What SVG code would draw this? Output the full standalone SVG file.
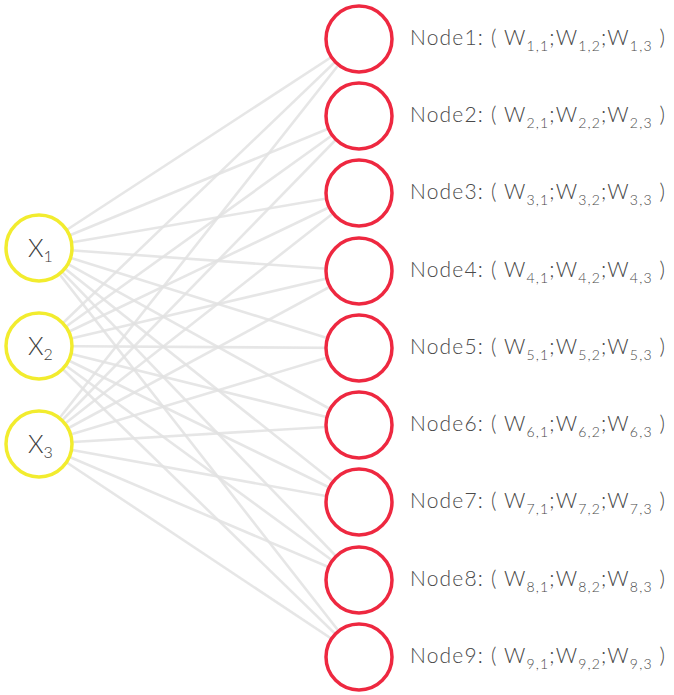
<svg xmlns="http://www.w3.org/2000/svg" width="674" height="695" viewBox="0 0 674 695">
<style>
.ln{stroke:#e2e2e2;stroke-width:2.6;stroke-opacity:0.85;fill:none}
.x{fill:#fff;stroke:#f2ec2e;stroke-width:3.5}
.n{fill:#fff;stroke:#ee2840;stroke-width:3.5}
.xl{font-family:Lato,"Open Sans",sans-serif;font-weight:300;font-size:25px;fill:#404040}
.lbl{font-family:Lato,"Open Sans",sans-serif;font-weight:300;font-size:21px;fill:#4a4a4a}
.sub{font-size:14px}
</style>
<rect width="674" height="695" fill="#fff"/>
<g id="connectors">
<line class="ln" x1="39" y1="248" x2="359" y2="39"/><line class="ln" x1="39" y1="248" x2="359" y2="116"/><line class="ln" x1="39" y1="248" x2="359" y2="193"/><line class="ln" x1="39" y1="248" x2="359" y2="271"/><line class="ln" x1="39" y1="248" x2="359" y2="348"/><line class="ln" x1="39" y1="248" x2="359" y2="425"/><line class="ln" x1="39" y1="248" x2="359" y2="502"/><line class="ln" x1="39" y1="248" x2="359" y2="580"/><line class="ln" x1="39" y1="248" x2="359" y2="657"/>
<line class="ln" x1="39" y1="346" x2="359" y2="39"/><line class="ln" x1="39" y1="346" x2="359" y2="116"/><line class="ln" x1="39" y1="346" x2="359" y2="193"/><line class="ln" x1="39" y1="346" x2="359" y2="271"/><line class="ln" x1="39" y1="346" x2="359" y2="348"/><line class="ln" x1="39" y1="346" x2="359" y2="425"/><line class="ln" x1="39" y1="346" x2="359" y2="502"/><line class="ln" x1="39" y1="346" x2="359" y2="580"/><line class="ln" x1="39" y1="346" x2="359" y2="657"/>
<line class="ln" x1="39" y1="444" x2="359" y2="39"/><line class="ln" x1="39" y1="444" x2="359" y2="116"/><line class="ln" x1="39" y1="444" x2="359" y2="193"/><line class="ln" x1="39" y1="444" x2="359" y2="271"/><line class="ln" x1="39" y1="444" x2="359" y2="348"/><line class="ln" x1="39" y1="444" x2="359" y2="425"/><line class="ln" x1="39" y1="444" x2="359" y2="502"/><line class="ln" x1="39" y1="444" x2="359" y2="580"/><line class="ln" x1="39" y1="444" x2="359" y2="657"/>
</g>
<g id="x1"><circle class="x" cx="39" cy="248" r="33"/><text class="xl" x="28" y="257">X<tspan font-size="16" dy="5">1</tspan></text></g>
<g id="x2"><circle class="x" cx="39" cy="346" r="33"/><text class="xl" x="28" y="355">X<tspan font-size="16" dy="5">2</tspan></text></g>
<g id="x3"><circle class="x" cx="39" cy="444" r="33"/><text class="xl" x="28" y="453">X<tspan font-size="16" dy="5">3</tspan></text></g>
<g id="node1"><circle class="n" cx="359" cy="39" r="33"/><text class="lbl" x="410" y="45" textLength="255" lengthAdjust="spacing">Node1:  ( W<tspan class="sub" dy="6">1,1</tspan><tspan dy="-6">;W</tspan><tspan class="sub" dy="6">1,2</tspan><tspan dy="-6">;W</tspan><tspan class="sub" dy="6">1,3</tspan><tspan dy="-6"> )</tspan></text></g>
<g id="node2"><circle class="n" cx="359" cy="116" r="33"/><text class="lbl" x="410" y="122" textLength="255" lengthAdjust="spacing">Node2:  ( W<tspan class="sub" dy="6">2,1</tspan><tspan dy="-6">;W</tspan><tspan class="sub" dy="6">2,2</tspan><tspan dy="-6">;W</tspan><tspan class="sub" dy="6">2,3</tspan><tspan dy="-6"> )</tspan></text></g>
<g id="node3"><circle class="n" cx="359" cy="193" r="33"/><text class="lbl" x="410" y="199" textLength="255" lengthAdjust="spacing">Node3:  ( W<tspan class="sub" dy="6">3,1</tspan><tspan dy="-6">;W</tspan><tspan class="sub" dy="6">3,2</tspan><tspan dy="-6">;W</tspan><tspan class="sub" dy="6">3,3</tspan><tspan dy="-6"> )</tspan></text></g>
<g id="node4"><circle class="n" cx="359" cy="271" r="33"/><text class="lbl" x="410" y="277" textLength="255" lengthAdjust="spacing">Node4:  ( W<tspan class="sub" dy="6">4,1</tspan><tspan dy="-6">;W</tspan><tspan class="sub" dy="6">4,2</tspan><tspan dy="-6">;W</tspan><tspan class="sub" dy="6">4,3</tspan><tspan dy="-6"> )</tspan></text></g>
<g id="node5"><circle class="n" cx="359" cy="348" r="33"/><text class="lbl" x="410" y="354" textLength="255" lengthAdjust="spacing">Node5:  ( W<tspan class="sub" dy="6">5,1</tspan><tspan dy="-6">;W</tspan><tspan class="sub" dy="6">5,2</tspan><tspan dy="-6">;W</tspan><tspan class="sub" dy="6">5,3</tspan><tspan dy="-6"> )</tspan></text></g>
<g id="node6"><circle class="n" cx="359" cy="425" r="33"/><text class="lbl" x="410" y="431" textLength="255" lengthAdjust="spacing">Node6:  ( W<tspan class="sub" dy="6">6,1</tspan><tspan dy="-6">;W</tspan><tspan class="sub" dy="6">6,2</tspan><tspan dy="-6">;W</tspan><tspan class="sub" dy="6">6,3</tspan><tspan dy="-6"> )</tspan></text></g>
<g id="node7"><circle class="n" cx="359" cy="502" r="33"/><text class="lbl" x="410" y="508" textLength="255" lengthAdjust="spacing">Node7:  ( W<tspan class="sub" dy="6">7,1</tspan><tspan dy="-6">;W</tspan><tspan class="sub" dy="6">7,2</tspan><tspan dy="-6">;W</tspan><tspan class="sub" dy="6">7,3</tspan><tspan dy="-6"> )</tspan></text></g>
<g id="node8"><circle class="n" cx="359" cy="580" r="33"/><text class="lbl" x="410" y="586" textLength="255" lengthAdjust="spacing">Node8:  ( W<tspan class="sub" dy="6">8,1</tspan><tspan dy="-6">;W</tspan><tspan class="sub" dy="6">8,2</tspan><tspan dy="-6">;W</tspan><tspan class="sub" dy="6">8,3</tspan><tspan dy="-6"> )</tspan></text></g>
<g id="node9"><circle class="n" cx="359" cy="657" r="33"/><text class="lbl" x="410" y="663" textLength="255" lengthAdjust="spacing">Node9:  ( W<tspan class="sub" dy="6">9,1</tspan><tspan dy="-6">;W</tspan><tspan class="sub" dy="6">9,2</tspan><tspan dy="-6">;W</tspan><tspan class="sub" dy="6">9,3</tspan><tspan dy="-6"> )</tspan></text></g>
</svg>
